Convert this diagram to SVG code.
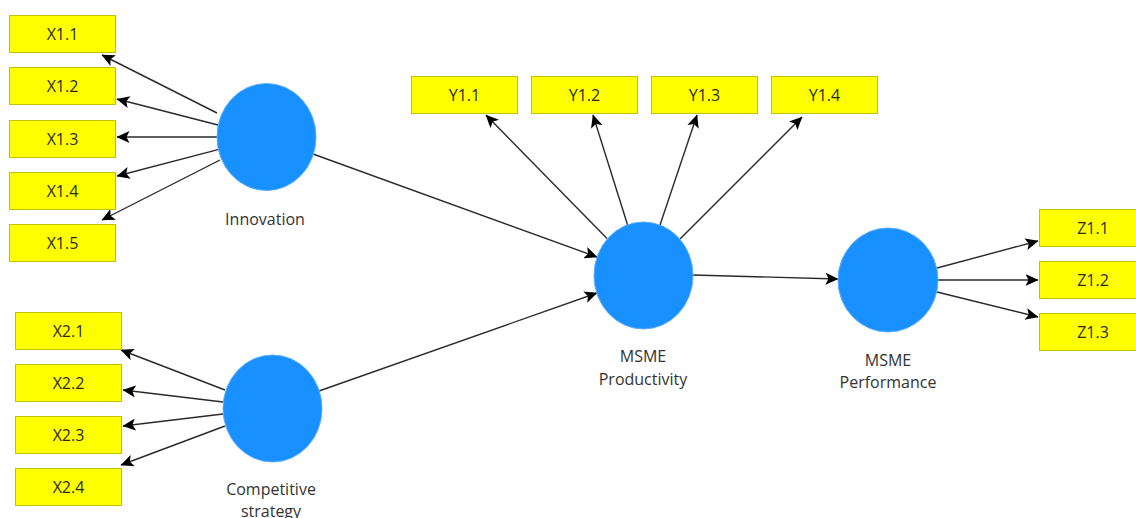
<svg xmlns="http://www.w3.org/2000/svg" width="1136" height="518" viewBox="0 0 1136 518">
<style>
.ind rect{fill:#FFFF00;stroke:#C2C200;stroke-width:1}
.ind text{font-family:"Open Sans","Noto Sans",sans-serif;font-size:16px;fill:#2b2b10;text-anchor:middle}
.lv ellipse{fill:#1890FF;stroke:#5AAEFF;stroke-width:1}
.lv text{font-family:"Open Sans","Noto Sans",sans-serif;font-size:16px;fill:#333;text-anchor:middle}
#connectors line{stroke:#2a2a2a;stroke-width:1.4;marker-end:url(#ah)}
</style>
<defs>
<marker id="ah" markerUnits="userSpaceOnUse" markerWidth="13" markerHeight="12" viewBox="0 0 13 12" refX="12.5" refY="6" orient="auto">
<path d="M0,0 L13,6 L0,12 L3,6 z" fill="#000"/>
</marker>
</defs>
<rect width="1136" height="518" fill="#fff"/>

<g id="connectors">
<line x1="217" y1="113" x2="102" y2="55"/>
<line x1="218" y1="125" x2="117" y2="99"/>
<line x1="217" y1="137" x2="117" y2="137"/>
<line x1="218" y1="149.6" x2="117" y2="176"/>
<line x1="220" y1="160" x2="102" y2="220"/>

<line x1="225" y1="390" x2="121" y2="350"/>
<line x1="223" y1="402" x2="123" y2="390"/>
<line x1="223" y1="414" x2="123" y2="426"/>
<line x1="225" y1="426" x2="121" y2="465"/>

<line x1="313" y1="154" x2="597" y2="257"/>
<line x1="319" y1="391" x2="597" y2="293"/>

<line x1="607" y1="238.5" x2="486" y2="115"/>
<line x1="627.6" y1="225" x2="593" y2="115"/>
<line x1="660" y1="225" x2="697" y2="115"/>
<line x1="680" y1="239" x2="802" y2="117"/>

<line x1="693" y1="275" x2="838" y2="279"/>

<line x1="937" y1="268" x2="1038" y2="241"/>
<line x1="938" y1="280" x2="1038" y2="280"/>
<line x1="937" y1="292" x2="1038" y2="317"/>
</g>

<g id="X1.1" class="ind"><rect x="9.5" y="15.5" width="106" height="37"/><text x="62.5" y="40">X1.1</text></g>
<g id="X1.2" class="ind"><rect x="9.5" y="67.5" width="106" height="37"/><text x="62.5" y="92">X1.2</text></g>
<g id="X1.3" class="ind"><rect x="9.5" y="120.5" width="106" height="37"/><text x="62.5" y="145">X1.3</text></g>
<g id="X1.4" class="ind"><rect x="9.5" y="172.5" width="106" height="37"/><text x="62.5" y="197">X1.4</text></g>
<g id="X1.5" class="ind"><rect x="9.5" y="224.5" width="106" height="37"/><text x="62.5" y="249">X1.5</text></g>

<g id="X2.1" class="ind"><rect x="15.5" y="312.5" width="106" height="37"/><text x="68.5" y="337">X2.1</text></g>
<g id="X2.2" class="ind"><rect x="15.5" y="364.5" width="106" height="37"/><text x="68.5" y="389">X2.2</text></g>
<g id="X2.3" class="ind"><rect x="15.5" y="416.5" width="106" height="37"/><text x="68.5" y="441">X2.3</text></g>
<g id="X2.4" class="ind"><rect x="15.5" y="468.5" width="106" height="37"/><text x="68.5" y="493">X2.4</text></g>

<g id="Y1.1" class="ind"><rect x="411.5" y="76.5" width="106" height="37"/><text x="464.5" y="101">Y1.1</text></g>
<g id="Y1.2" class="ind"><rect x="531.5" y="76.5" width="106" height="37"/><text x="584.5" y="101">Y1.2</text></g>
<g id="Y1.3" class="ind"><rect x="651.5" y="76.5" width="106" height="37"/><text x="704.5" y="101">Y1.3</text></g>
<g id="Y1.4" class="ind"><rect x="771.5" y="76.5" width="106" height="37"/><text x="824.5" y="101">Y1.4</text></g>

<g id="Z1.1" class="ind"><rect x="1039.5" y="209.5" width="106" height="37"/><text x="1093" y="234">Z1.1</text></g>
<g id="Z1.2" class="ind"><rect x="1039.5" y="261.5" width="106" height="37"/><text x="1093" y="286">Z1.2</text></g>
<g id="Z1.3" class="ind"><rect x="1039.5" y="313.5" width="106" height="37"/><text x="1093" y="338">Z1.3</text></g>

<g id="Innovation" class="lv"><ellipse cx="266.5" cy="137" rx="49.5" ry="53.5"/><text x="265" y="225">Innovation</text></g>
<g id="CompetitiveStrategy" class="lv"><ellipse cx="272.5" cy="408.5" rx="49.5" ry="53.5"/><text x="271" y="495">Competitive</text><text x="271" y="517">strategy</text></g>
<g id="MSMEProductivity" class="lv"><ellipse cx="643.5" cy="275.5" rx="49.5" ry="53.5"/><text x="643" y="362">MSME</text><text x="643" y="385">Productivity</text></g>
<g id="MSMEPerformance" class="lv"><ellipse cx="888" cy="280" rx="50" ry="52"/><text x="888" y="366">MSME</text><text x="888" y="388">Performance</text></g>
</svg>
